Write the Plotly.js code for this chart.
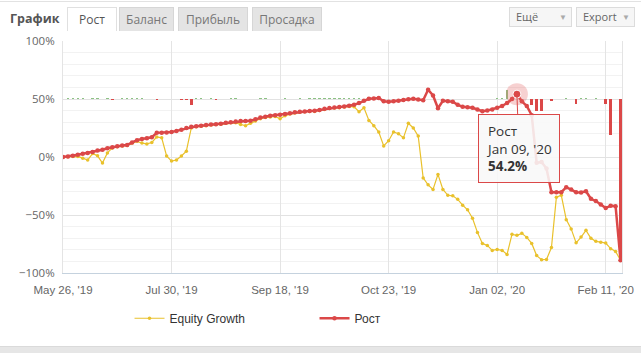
<!DOCTYPE html>
<html><head><meta charset="utf-8">
<script src="https://cdn.plot.ly/plotly-3.0.1.min.js"></script>
<style>
html,body{margin:0;padding:0;background:#fff;width:641px;height:353px;overflow:hidden;font-family:"Open Sans",sans-serif;}
#chart{position:absolute;left:0;top:0;width:641px;height:353px;}
.abs{position:absolute;box-sizing:border-box;}
.tab{top:7px;height:24px;font-size:12px;color:#777;background:#e4e4e4;border:1px solid #d6d6d6;border-bottom:none;text-align:center;line-height:23px;}
.btn{top:7px;height:20px;font-size:11px;color:#666;background:#f6f6f6;border:1px solid #dcdcdc;line-height:18px;padding-left:6px;}
.btn span{position:absolute;right:4px;top:0;color:#aaa;font-size:8px;}
</style></head><body>
<div id="chart"></div>
<div class="abs" style="left:0;top:1px;width:641px;height:1px;background:#e2e2e2"></div>
<div class="abs" style="left:10px;top:10px;font-size:12.5px;font-weight:bold;color:#555">График</div>
<div class="abs tab" style="left:67px;width:50px;background:#fff;border-color:#e0e0e0;color:#555">Рост</div>
<div class="abs tab" style="left:119px;width:55px">Баланс</div>
<div class="abs tab" style="left:178px;width:70px">Прибыль</div>
<div class="abs tab" style="left:252px;width:70px">Просадка</div>
<div class="abs btn" style="left:509px;width:63px">Ещё<span>▼</span></div>
<div class="abs btn" style="left:576px;width:59px">Export<span>▼</span></div>
<div class="abs" style="left:0;top:346px;width:641px;height:7px;background:#e6e6e6;border-top:1px solid #dadada"></div>
<script>
// ordinal positions of the data points (one per trading day)
const pointIndex = Array.from({length: 114}, (_, i) => i);

// x-axis tick labels and the point indices where they sit
const tickIndex = [0, 22, 44, 66, 88, 110];
const tickLabels = ["May 26, '19", "Jul 30, '19", "Sep 18, '19", "Oct 23, '19", "Jan 02, '20", "Feb 11, '20"];

// y-axis ticks
const yTickValues = [-100, -50, 0, 50, 100];
const yTickLabels = ['\u2212100%', '\u221250%', '0%', '50%', '100%'];

// Рост (growth, %)
const rostValues = [
  0,0.5,1,2,2.8,3.5,4.3,5.5,6.2,7.5,
  8.5,9.2,10,10.4,12.5,14.5,15.6,16.2,17,20.8,
  21,21.2,21.6,22.5,23.5,25,26,26.5,27,27.5,
  28,28.3,28.6,29.5,30,30.5,31,31,31.3,32.5,
  34,34.8,35.5,36,36.4,37,37.8,38.5,39,39.3,
  39.6,39.8,40.5,41.5,42.2,42.6,43,43.6,44.2,45,
  46.5,48.5,50.2,50.5,50.8,48,47.6,48,48.5,49.2,
  49.8,50.2,49.5,49,58,53,42,48.5,48,47.6,
  45,43.3,42.8,42.4,41,39.5,40,41,42.4,44,
  46.5,50,54.2,48,44,36,-5,-4.3,-10,-30.3,
  -30.3,-30.3,-26,-28,-30.3,-30.5,-29.5,-36,-38,-41,
  -44,-42,-42.4,-89
];

// Equity Growth (%)
const equityValues = [
  0,0.2,0.5,0.5,-1,-2.6,3,1,-5.2,3.5,
  7.8,8.8,9.5,10,12,13.5,12,11.3,12.5,17.3,
  16.5,0.9,-3.5,-2.6,0.9,5,25,26,26.5,27,
  27.5,28,28.3,29,29.5,29.5,28,27,29,31,
  33,34,34.5,35,33,35.5,37,38,38.5,39,
  39.2,39.3,40,41,41.8,42.2,42.5,43,43.6,43.3,
  39,42.5,31.5,27,21.5,9.5,14,21.6,20,16.5,
  29,25,18,-18,-24,-28,-15,-28,-33,-33.5,
  -36.5,-41.5,-45.5,-52.8,-65,-74.5,-76.2,-80.5,-79.7,-80.5,
  -84,-66.7,-67.5,-65.8,-69.3,-74.5,-85,-88.5,-88.3,-78,
  -34.6,-33,-54,-62,-74,-69,-63.2,-70,-72.7,-73.4,
  -74.2,-79,-81.4,-89
];

// daily change bars, drawn from the 50% line
const dailyChange = [
  0,0.8,0.8,1,0.6,0,0.6,0.8,0,0.6,
  -0.8,0,0.6,0.8,0.8,0.6,0.6,0,0,-0.8,
  0,0,0,0,-0.8,-0.8,-5,0.8,1,0,
  0.6,-0.6,0,0,0.6,0.8,0,0,0,0,
  0.6,0.8,0,0,0,0.6,0,0,0.8,0,
  0.8,0.6,0.8,1,1.2,0.8,1.2,0.8,0.8,1,
  0.8,0,0,0,0,0,0,0,0,0,
  0,0,0,0,0,0,0,0,0,0,
  0,0,0,0,0,0,0,0,0.8,1,
  8,0,0,0,0,-5,-10,-10,0,-2,
  0,0,1,0,-4,1,1.2,0,0.6,0,
  -4,-31,0,-139
];

const highlightIndex = 92;

const RED = '#db4848', YEL = '#e9c12c';
const barColors = dailyChange.map(v => v >= 0 ? '#8cc284' : RED);

const traces = [
  {type:'bar', x: pointIndex, y: dailyChange, base: 50, width: 0.5,
   marker:{color: barColors}, showlegend:false, hoverinfo:'skip'},
  {type:'scatter', mode:'lines+markers', name:'Equity Growth', x: pointIndex, y: equityValues,
   line:{color: YEL, width: 1.2}, marker:{color: YEL, size: 3.5}},
  {type:'scatter', mode:'lines+markers', name:'Рост', x: pointIndex, y: rostValues,
   line:{color: RED, width: 2.5}, marker:{color: RED, size: 4.5}},
  {type:'scatter', mode:'markers', x:[pointIndex[highlightIndex]], y:[rostValues[highlightIndex]],
   marker:{color:'rgba(225,90,90,0.28)', size:22}, showlegend:false, hoverinfo:'skip'},
  {type:'scatter', mode:'markers', x:[pointIndex[highlightIndex]], y:[rostValues[highlightIndex]],
   marker:{color:RED, size:8, line:{color:'#fff', width:1}}, showlegend:false, hoverinfo:'skip'}
];

const layout = {
  width: 641, height: 353,
  margin: {l: 63, r: 19, t: 41, b: 80},
  paper_bgcolor: 'rgba(0,0,0,0)', plot_bgcolor: '#fff',
  hovermode: false,
  showlegend: true,
  bargap: 0,
  xaxis: {
    range: [0, 113.3], tickvals: tickIndex, ticktext: tickLabels,
    showgrid: true, gridcolor: '#e4e4e4', zeroline: false,
    showline: true, linecolor: '#c5d2de', linewidth: 1,
    ticks: '', ticklabelstandoff: 6,
    tickfont: {family: 'Liberation Sans, Arial, sans-serif', size: 11.5, color: '#666'}
  },
  yaxis: {
    range: [-100, 100], tickvals: yTickValues, ticktext: yTickLabels,
    showgrid: true, gridcolor: '#e2e2e2', zeroline: false,
    showline: true, mirror: true, linecolor: '#e4e4e4',
    minor: {dtick: 10, showgrid: true, gridcolor: '#f2f2f2', ticks: ''},
    ticks: '', ticklabelstandoff: 5,
    tickfont: {family: 'Open Sans, sans-serif', size: 11.5, color: '#666'}
  },
  legend: {
    orientation: 'h', x: 0.119, xanchor: 'left', y: -0.195, yanchor: 'middle',
    entrywidth: 140, entrywidthmode: 'pixels',
    font: {family: 'Liberation Sans, Arial, sans-serif', size: 12, color: '#333'},
    bgcolor: 'rgba(0,0,0,0)'
  },
  annotations: [{
    x: pointIndex[highlightIndex], y: rostValues[highlightIndex], xref: 'x', yref: 'y',
    text: 'Рост<br>Jan 09, \'20<br><b>54.2%</b>',
    showarrow: true, arrowhead: 0, arrowwidth: 1, arrowcolor: RED, ax: 2, ay: 54,
    align: 'left', bgcolor: 'rgba(248,248,248,0.88)', bordercolor: RED, borderwidth: 1, borderpad: 7,
    font: {family: 'Open Sans, sans-serif', size: 13.5, color: '#333'}
  }]
};

Plotly.newPlot('chart', traces, layout, {displayModeBar: false, staticPlot: true});
</script>
</body></html>
